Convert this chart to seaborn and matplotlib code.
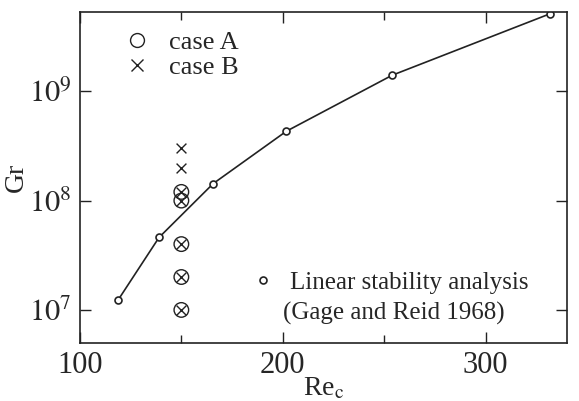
import numpy as np
import pandas as pd
import seaborn as sns
import matplotlib.pyplot as plt
from matplotlib.lines import Line2D

# linear stability analysis (Gage and Reid 1968)
lsa_re = [118.8, 139, 165.7, 201.7, 253.9, 331.6]
lsa_gr = [1.23e7, 4.6e7, 1.43e8, 4.3e8, 1.4e9, 5.1e9]

# experiments
caseA_re = [150, 150, 150, 150, 150]
caseA_gr = [1e7, 2e7, 4e7, 1e8, 1.2e8]
caseB_re = [150, 150, 150, 150, 150, 150, 150]
caseB_gr = [1e7, 2e7, 4e7, 1e8, 1.2e8, 2e8, 3e8]

sns.set_style("ticks")
plt.rcParams['font.family'] = ['Liberation Serif', 'DejaVu Serif']
plt.rcParams['mathtext.fontset'] = 'stix'

fig = plt.figure(figsize=(5.79, 4.01), dpi=100)
ax = fig.add_axes([0.138, 0.145, 0.841, 0.825])

lsa = pd.DataFrame({'Re': lsa_re, 'Gr': lsa_gr})
sns.lineplot(data=lsa, x='Re', y='Gr', ax=ax, color='#222222', lw=1.2,
             marker='o', markersize=5, markerfacecolor='white',
             markeredgecolor='#222222', markeredgewidth=1.2)

sns.scatterplot(x=caseA_re, y=caseA_gr, ax=ax, marker='o', s=110,
                facecolor='none', edgecolor='#222222', linewidth=1.0)
sns.scatterplot(x=caseB_re, y=caseB_gr, ax=ax, marker='x', s=50,
                color='#222222', linewidth=1.0)

ax.set_yscale('log')
ax.set_xlim(100, 340)
ax.set_ylim(5e6, 5.3e9)
ax.set_xticks([100, 200, 300])
ax.set_xticks([150, 250], minor=True)
ax.set_yticks([1e7, 1e8, 1e9])
ax.set_yticklabels([r'$10^7$', r'$10^8$', r'$10^9$'])
ax.yaxis.set_minor_locator(plt.NullLocator())
ax.tick_params(which='both', direction='in', top=True, right=True,
               labelsize=22, width=1.0, color='#222222')
ax.tick_params(which='major', length=8, pad=6)
ax.tick_params(which='minor', length=6)
for s in ax.spines.values():
    s.set_linewidth(1.2)
    s.set_color('#222222')

ax.set_xlabel(r'Re$_\mathrm{c}$', fontsize=20)
ax.set_ylabel('Gr', fontsize=20)
ax.xaxis.set_label_coords(0.5, -0.10)
ax.yaxis.set_label_coords(-0.105, 0.5)

# legends
h1 = [Line2D([], [], ls='none', marker='o', ms=10, mfc='none', mec='#222222', mew=1.0),
      Line2D([], [], ls='none', marker='x', ms=8, color='#222222', mew=1.0)]
leg1 = ax.legend(h1, ['case A', 'case B'], loc='upper left', bbox_to_anchor=(0.025, 1.015),
                 frameon=False, fontsize=19, handletextpad=0.4, labelspacing=0.05,
                 handlelength=1.6)
ax.add_artist(leg1)
h2 = [Line2D([], [], ls='none', marker='o', ms=5, mfc='white', mec='#222222', mew=1.2)]
ax.legend(h2, ['Linear stability analysis'], loc='upper left', bbox_to_anchor=(0.292, 0.285),
          frameon=False, fontsize=18, handletextpad=0.3, handlelength=1.5)
ax.text(0.645, 0.09, '(Gage and Reid 1968)', transform=ax.transAxes, fontsize=18,
        ha='center', va='center')

fig.savefig('out.png', dpi=100)
